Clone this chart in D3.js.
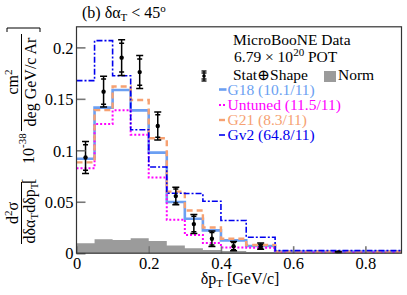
<!DOCTYPE html>
<html><head><meta charset="utf-8">
<script src="https://cdn.jsdelivr.net/npm/d3@7"></script>
<style>
html,body{margin:0;padding:0;background:#fff;}
svg, svg text{font-family:"Liberation Serif","Times New Roman",Times,"DejaVu Serif",serif;}
</style></head>
<body><svg id="c" width="407" height="295"></svg>
<script>
// ---- data ----
const binEdges = [0,0.05,0.1,0.15,0.2,0.25,0.3,0.35,0.4,0.47,0.55,0.9];
const binCenters = [0.025,0.075,0.125,0.175,0.225,0.275,0.325,0.375,0.435,0.51,0.725];
const dataValues = [0.093,0.157,0.190,0.176,0.1236,0.0555,0.0283,0.0140,0.0068,0.0068,0.0008];
const dataErrTotal = [0.0155,0.015,0.0173,0.016,0.0135,0.0085,0.0092,0.0075,0.0045,0.003,0.0005];
const dataErrStat = [0.0123,0.0122,0.014,0.0128,0.011,0.0068,0.0075,0.006,0.0035,0.002,0.0003];
const normValues = [0.0096,0.0135,0.0128,0.0145,0.0118,0.0074,0.0047,0.003,0.0022,0.0012,0.0005];
const g18Values = [0.0918,0.1415,0.1586,0.1388,0.0977,0.0497,0.0335,0.0222,0.0125,0.007,0.0015];
const untunedValues = [0.0825,0.1256,0.1388,0.1152,0.0736,0.0326,0.0178,0.0098,0.0055,0.0052,0.0008];
const g21Values = [0.0883,0.139,0.162,0.1489,0.1117,0.0598,0.0415,0.025,0.014,0.008,0.0015];
const gv2Values = [0.1677,0.2066,0.1725,0.1200,0.0838,0.0582,0.058,0.0505,0.0318,0.0155,0.0025];
const xTicks = [0,0.2,0.4,0.6,0.8];
const yTicks = [0,0.05,0.1,0.15,0.2];
const xTickLabels = ["0","0.2","0.4","0.6","0.8"];
const yTickLabels = ["0","0.05","0.1","0.15","0.2"];
const seriesNames = ["G18 (10.1/11)","Untuned (11.5/11)","G21 (8.3/11)","Gv2 (64.8/11)"];

// ---- layout ----
const FONT = "'Liberation Serif','Times New Roman',Times,'DejaVu Serif',serif";
const L=76.5, R=401.5, T=26.8, B=253.2;
const svg = d3.select("#c").attr("font-family",FONT);
const x = d3.scaleLinear().domain([0,0.9]).range([L,R]);
const y = d3.scaleLinear().domain([0,0.22]).range([B,T]);

svg.append("clipPath").attr("id","pc").append("rect")
  .attr("x",L).attr("y",T).attr("width",R-L).attr("height",B-T);
const plot = svg.append("g").attr("clip-path","url(#pc)");

function stepPts(vals){
  const pts = vals.map((v,i)=>[binEdges[i],v]);
  pts.push([binEdges[binEdges.length-1], vals[vals.length-1]]);
  return pts;
}
// Norm area
plot.append("path")
  .datum(stepPts(normValues))
  .attr("d", d3.area().curve(d3.curveStepAfter).x(d=>x(d[0])).y0(y(0)).y1(d=>y(d[1])))
  .attr("fill","#9b9b9b").attr("stroke","none");

const line = d3.line().curve(d3.curveStepAfter).x(d=>x(d[0])).y(d=>y(d[1]));
const styles = [
  {vals:g18Values, color:"#6b9ff2", w:2.6, dash:null},
  {vals:untunedValues, color:"#ff00ff", w:2, dash:"2,2"},
  {vals:g21Values, color:"#f6a172", w:2.4, dash:"6,4"},
  {vals:gv2Values, color:"#0000ee", w:1.6, dash:"6,2,2,2"}
];
styles.forEach(s=>{
  plot.append("path").datum(stepPts(s.vals)).attr("d",line)
    .attr("fill","none").attr("stroke",s.color).attr("stroke-width",s.w)
    .attr("stroke-dasharray",s.dash);
});

// data points
const dg = plot.append("g").attr("stroke","#000").attr("stroke-width",1.5);
dataValues.forEach((v,i)=>{
  const cx = x(binCenters[i]);
  const e = dataErrTotal[i], s = dataErrStat[i];
  dg.append("line").attr("x1",cx).attr("x2",cx).attr("y1",y(v+e)).attr("y2",y(v-e));
  [v+e,v-e].forEach(t=>dg.append("line").attr("x1",cx-3.5).attr("x2",cx+3.5).attr("y1",y(t)).attr("y2",y(t)));
  [v+s,v-s].forEach(t=>dg.append("line").attr("x1",cx-2.5).attr("x2",cx+2.5).attr("y1",y(t)).attr("y2",y(t)));
  dg.append("circle").attr("cx",cx).attr("cy",y(v)).attr("r",2.2).attr("fill","#000").attr("stroke","none");
});

// axes
const xAxis = d3.axisBottom(x).tickValues(xTicks).tickFormat((d,i)=>xTickLabels[i])
  .tickSizeInner(-7).tickSizeOuter(0).tickPadding(4);
const gx = svg.append("g").attr("transform",`translate(0,${B})`).call(xAxis);
const yAxis = d3.axisLeft(y).tickValues(yTicks).tickFormat((d,i)=>yTickLabels[i])
  .tickSizeInner(-9).tickSizeOuter(0).tickPadding(3);
const gy = svg.append("g").attr("transform",`translate(${L},0)`).call(yAxis);
[gx,gy].forEach(g=>{
  g.attr("font-family",FONT).attr("font-size",16.5);
  g.select(".domain").remove();
  g.selectAll(".tick line").attr("stroke","#777").attr("stroke-width",1.6);
  g.selectAll(".tick text").attr("font-family",FONT).attr("font-size",16.5).attr("fill","#000");
});
gy.selectAll(".tick text").attr("dy","0.35em");

// frame
svg.append("rect").attr("x",L).attr("y",T).attr("width",R-L).attr("height",B-T)
  .attr("fill","none").attr("stroke","#333").attr("stroke-width",1.2);

// title
const title = svg.append("text").attr("x",82).attr("y",18).attr("font-size",16);
title.append("tspan").text("(b) δα");
title.append("tspan").attr("font-size",11).attr("dy",3).text("T");
title.append("tspan").attr("dy",-3).text(" < 45");
title.append("tspan").attr("font-size",11).attr("dy",-6).text("o");

// x label
const xl = svg.append("text").attr("x",240).attr("y",284).attr("text-anchor","middle").attr("font-size",16);
xl.append("tspan").text("δp");
xl.append("tspan").attr("font-size",11).attr("dy",3).text("T");
xl.append("tspan").attr("dy",-3).text(" [GeV/c]");

// y label (rotated)
const yl = svg.append("g").attr("transform","rotate(-90)").attr("font-size",16);
yl.append("text").attr("x",-213).attr("y",18).attr("text-anchor","middle")
  .call(t=>{t.append("tspan").text("d");t.append("tspan").attr("font-size",11).attr("dy",-6).text("2");t.append("tspan").attr("dy",6).text("σ");});
yl.append("line").attr("x1",-244).attr("x2",-182).attr("y1",21.5).attr("y2",21.5).attr("stroke","#000").attr("stroke-width",1);
yl.append("text").attr("x",-213).attr("y",34.5).attr("text-anchor","middle")
  .call(t=>{t.append("tspan").text("dδα");t.append("tspan").attr("font-size",11).attr("dy",3).text("T");
            t.append("tspan").attr("dy",-3).text("dδp");t.append("tspan").attr("font-size",11).attr("dy",3).text("T");});
yl.append("text").attr("x",-184).attr("y",34).text("[");
yl.append("text").attr("x",-164).attr("y",34)
  .call(t=>{t.append("tspan").text("10");t.append("tspan").attr("font-size",11).attr("dy",-8).text("-38");});
yl.append("text").attr("x",-82).attr("y",18).attr("text-anchor","middle")
  .call(t=>{t.append("tspan").text("cm");t.append("tspan").attr("font-size",11).attr("dy",-6).text("2");});
yl.append("line").attr("x1",-131).attr("x2",-34).attr("y1",21.5).attr("y2",21.5).attr("stroke","#000").attr("stroke-width",1);
yl.append("text").attr("x",-82).attr("y",35.5).attr("text-anchor","middle").text("deg GeV/c Ar");
yl.append("path").attr("d","M-32,40 L-28,40 L-28,7 L-32,7")
  .attr("fill","none").attr("stroke","#000").attr("stroke-width",1);

// legend
const lg = svg.append("g").attr("font-size",15.5);
lg.append("text").attr("x",233).attr("y",45).text("MicroBooNE Data");
lg.append("text").attr("x",234).attr("y",62)
  .call(t=>{t.append("tspan").text("6.79 × 10");t.append("tspan").attr("font-size",11).attr("dy",-6).text("20");t.append("tspan").attr("dy",6).text(" POT");});
const ic = lg.append("g").attr("stroke","#000").attr("stroke-width",1.3);
ic.append("line").attr("x1",204).attr("x2",204).attr("y1",71).attr("y2",81);
[71,73,79,81].forEach(v=>ic.append("line").attr("x1",201.5).attr("x2",206.5).attr("y1",v).attr("y2",v));
ic.append("circle").attr("cx",204).attr("cy",76).attr("r",1.8).attr("fill","#000").attr("stroke","none");
lg.append("text").attr("x",233).attr("y",79.5).text("Stat⊕Shape");
lg.append("rect").attr("x",324).attr("y",71).attr("width",12).attr("height",11).attr("fill","#9b9b9b");
lg.append("text").attr("x",338).attr("y",79.5).text("Norm");
const lgY = [94.5,110,125,140];
styles.forEach((s,i)=>{
  lg.append("line").attr("x1",219).attr("x2",226.5).attr("y1",lgY[i]-5).attr("y2",lgY[i]-5)
    .attr("stroke",s.color).attr("stroke-width",s.w).attr("stroke-dasharray",s.dash);
  lg.append("text").attr("x",227.5).attr("y",lgY[i]).attr("fill",s.color).text(seriesNames[i]);
});
</script></body></html>
